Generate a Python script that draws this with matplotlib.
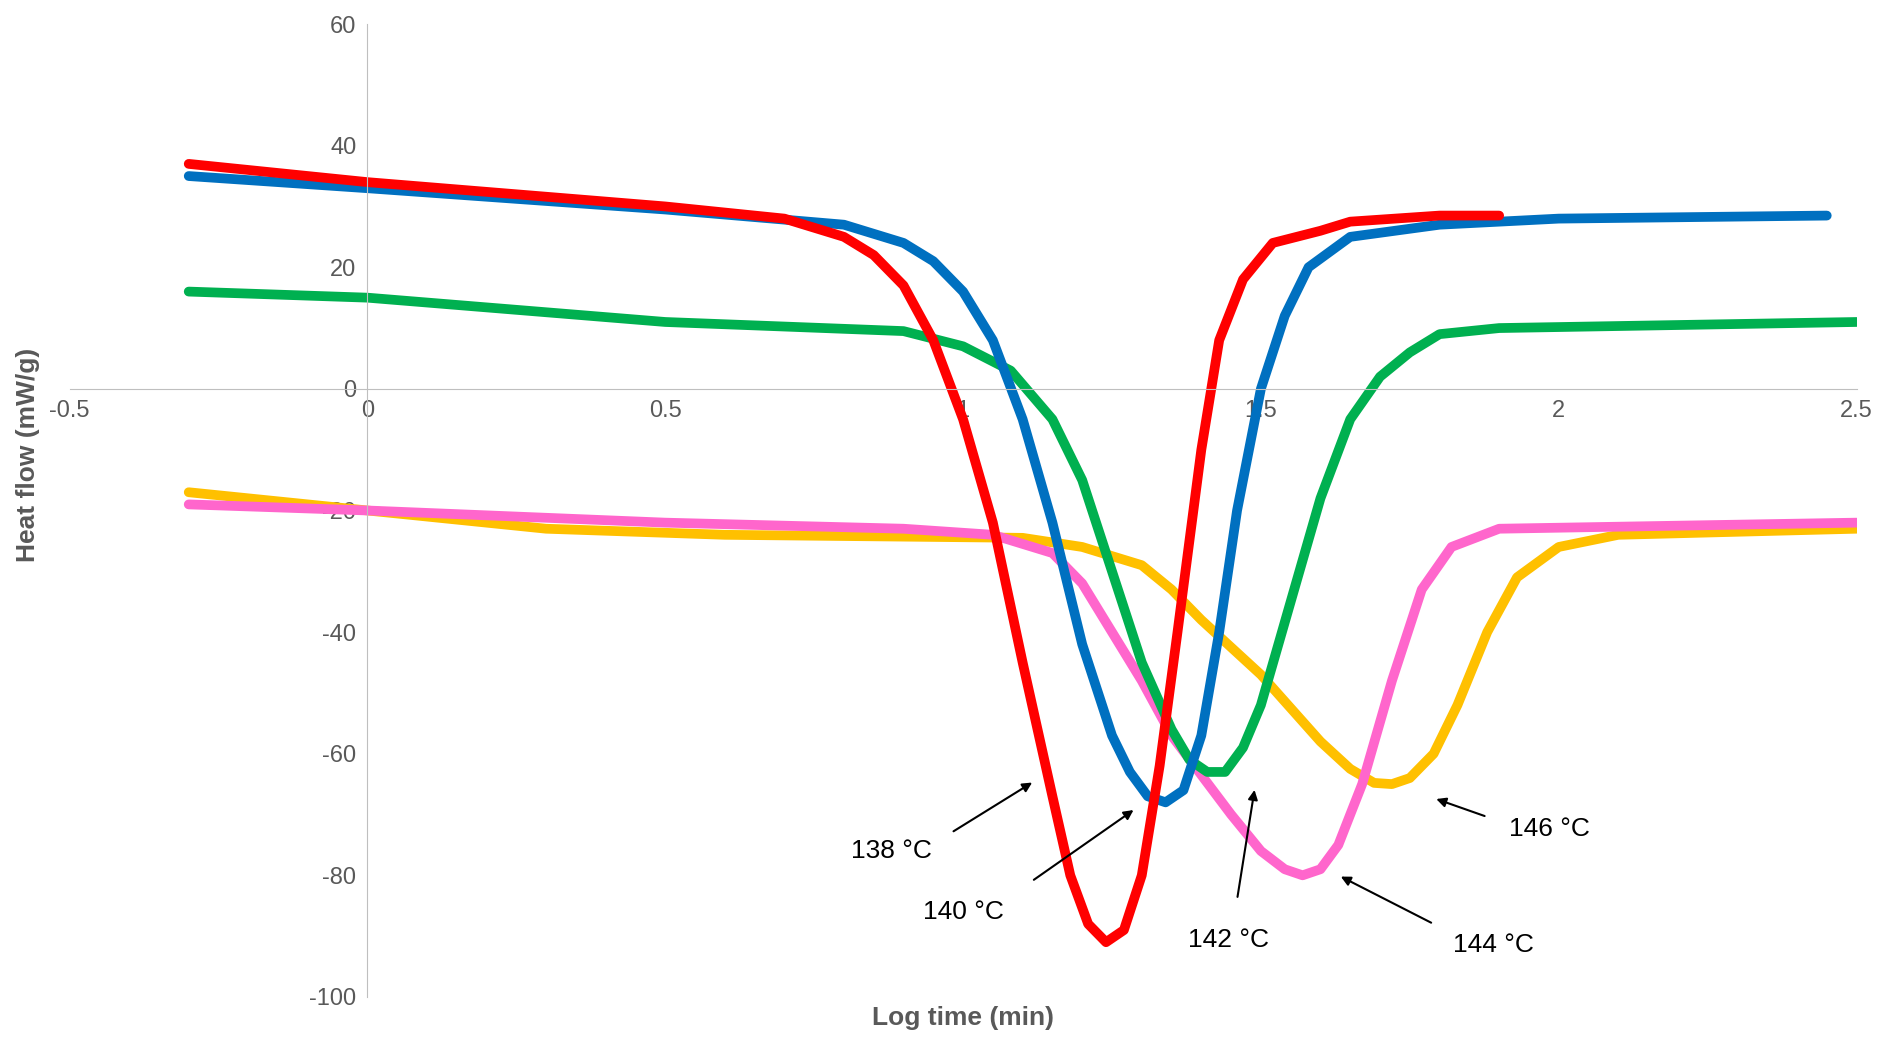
import matplotlib
matplotlib.use("Agg")
import matplotlib.pyplot as plt

plt.rcParams["font.family"] = ["Liberation Sans", "DejaVu Sans"]
plt.rcParams["axes.unicode_minus"] = False

# heat flow curves (x = log time, y = mW/g)
x_138 = [-0.3, 0, 0.5, 0.7, 0.8, 0.85, 0.9, 0.95, 1.0, 1.05, 1.1, 1.15, 1.18, 1.21, 1.24, 1.27, 1.3, 1.33, 1.36, 1.4, 1.43, 1.47, 1.52, 1.6, 1.65, 1.8, 1.9]
y_138 = [37, 34, 30, 28, 25, 22, 17, 8, -5, -22, -45, -67, -80, -88, -91, -89, -80, -62, -40, -10, 8, 18, 24, 26, 27.5, 28.5, 28.5]
x_140 = [-0.3, 0, 0.5, 0.8, 0.9, 0.95, 1.0, 1.05, 1.1, 1.15, 1.2, 1.25, 1.28, 1.31, 1.34, 1.37, 1.4, 1.43, 1.46, 1.5, 1.54, 1.58, 1.65, 1.8, 2.0, 2.45]
y_140 = [35, 33, 29.5, 27, 24, 21, 16, 8, -5, -22, -42, -57, -63, -67, -68, -66, -57, -40, -20, 0, 12, 20, 25, 27, 28, 28.5]
x_142 = [-0.3, 0, 0.5, 0.9, 1.0, 1.08, 1.15, 1.2, 1.25, 1.3, 1.35, 1.38, 1.41, 1.44, 1.47, 1.5, 1.55, 1.6, 1.65, 1.7, 1.75, 1.8, 1.9, 2.5]
y_142 = [16, 15, 11, 9.5, 7, 3, -5, -15, -30, -45, -56, -61, -63, -63, -59, -52, -35, -18, -5, 2, 6, 9, 10, 11]
x_144 = [-0.3, 0, 0.5, 0.9, 1.05, 1.15, 1.2, 1.25, 1.3, 1.35, 1.45, 1.5, 1.54, 1.57, 1.6, 1.63, 1.67, 1.72, 1.77, 1.82, 1.9, 2.5]
y_144 = [-19, -20, -22, -23, -24, -27, -32, -40, -48, -57, -70, -76, -79, -80, -79, -75, -65, -48, -33, -26, -23, -22]
x_146 = [-0.3, 0, 0.3, 0.6, 1.1, 1.2, 1.3, 1.35, 1.4, 1.5, 1.6, 1.65, 1.69, 1.72, 1.75, 1.79, 1.83, 1.88, 1.93, 2.0, 2.1, 2.5]
y_146 = [-17, -20, -23, -24, -24.5, -26, -29, -33, -38, -47, -58, -62.5, -64.8, -65, -64, -60, -52, -40, -31, -26, -24, -23]

labels = ["138 \u00b0C", "140 \u00b0C", "142 \u00b0C", "144 \u00b0C", "146 \u00b0C"]
# (text xy, arrow tail, arrow head)
notes = [((0.88, -76), (0.98, -73), (1.12, -64.5)),
         ((1.0, -86), (1.115, -81), (1.29, -69)),
         ((1.445, -90.6), (1.46, -84), (1.49, -65.5)),
         ((1.89, -91.4), (1.79, -88), (1.63, -80)),
         ((1.985, -72.4), (1.88, -70.4), (1.79, -67.3))]

fig = plt.figure(figsize=(18.81, 10.45), dpi=100)
ax = fig.add_axes([0.037, 0.046, 0.95, 0.931])

series = [(x_146, y_146, "#ffc000"), (x_144, y_144, "#ff66cc"),
          (x_142, y_142, "#00b050"), (x_140, y_140, "#0070c0"),
          (x_138, y_138, "#ff0000")]
for xs, ys, c in series:
    ax.plot(xs, ys, color=c, lw=7, solid_capstyle="round", solid_joinstyle="round")

ax.set_xlim(-0.5, 2.5)
ax.set_ylim(-100, 60)
ax.set_xticks([-0.5, 0, 0.5, 1, 1.5, 2, 2.5])
ax.set_xticklabels(["-0.5", "0", "0.5", "1", "1.5", "2", "2.5"])
ax.set_yticks(range(-100, 61, 20))
ax.spines["left"].set_position(("data", 0))
ax.spines["bottom"].set_position(("data", 0))
ax.spines["top"].set_visible(False)
ax.spines["right"].set_visible(False)
for s in ("left", "bottom"):
    ax.spines[s].set_color("#bfbfbf")
ax.tick_params(length=0, labelsize=17, labelcolor="#595959", pad=8)

fig.text(0.015, 0.565, "Heat flow (mW/g)", rotation=90, ha="center", va="center",
         fontsize=19, fontweight="bold", color="#595959")
ax.text(1.0, -103.5, "Log time (min)", ha="center", va="center",
        fontsize=19, fontweight="bold", color="#595959")

for lab, (txy, tail, head) in zip(labels, notes):
    ax.text(txy[0], txy[1], lab, ha="center", va="center", fontsize=19)
    ax.annotate("", xy=head, xytext=tail,
                arrowprops=dict(arrowstyle="-|>", color="black", lw=1.5,
                                mutation_scale=14))

fig.savefig("out.png", dpi=100)
